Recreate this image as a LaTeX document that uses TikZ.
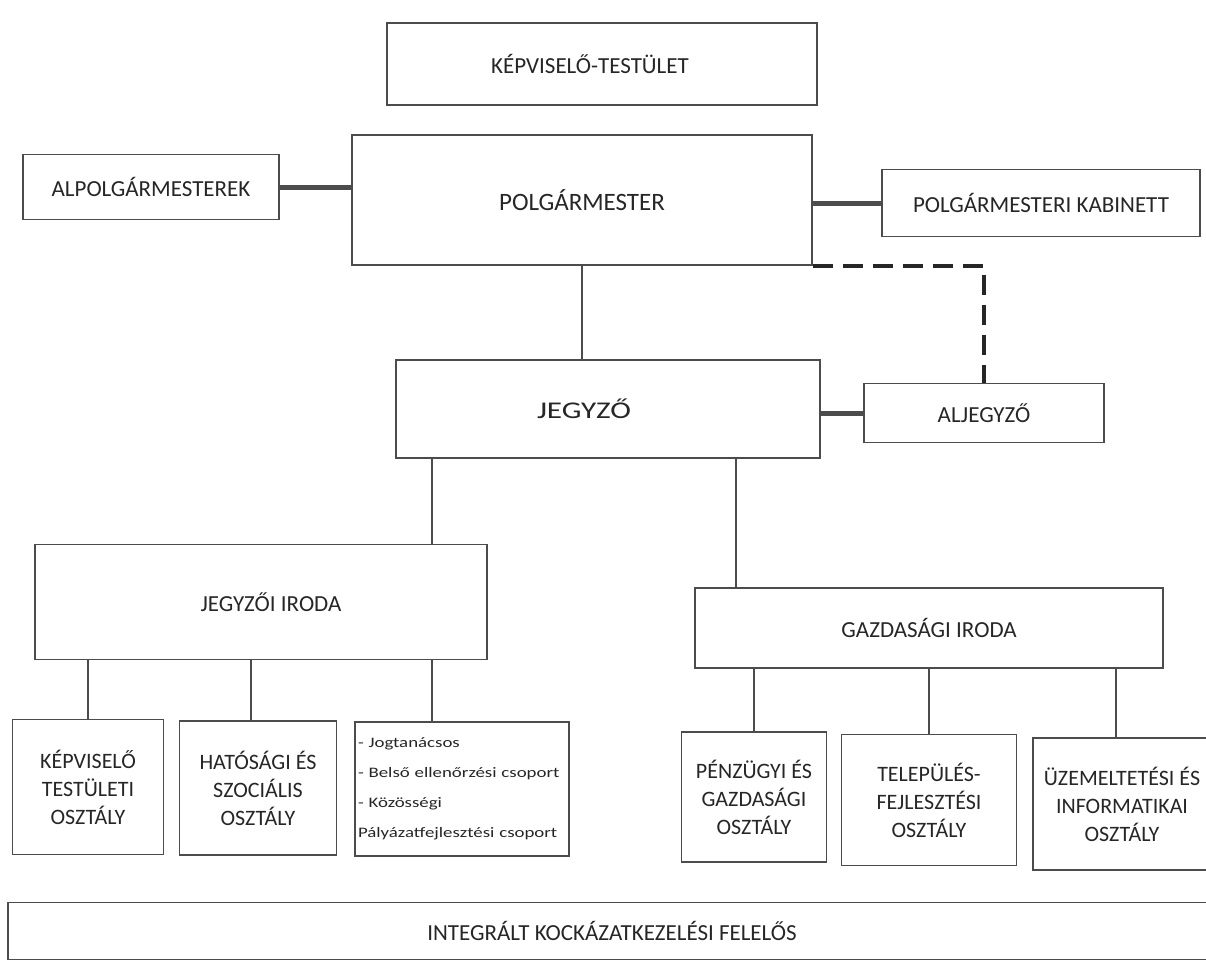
\documentclass[tikz,border=0pt]{standalone}
\usepackage{fontspec}
\setmainfont{Carlito}
\newfontfamily\widefont[FakeStretch=1.3]{Carlito}
\usetikzlibrary{positioning}
\tikzset{
  box/.style={draw=black!70, line width=1.6pt, text=black!85, align=center, font=\fontsize{23}{28}\selectfont},
  subbox/.style={box, font=\fontsize{22}{28}\selectfont},
  thinline/.style={draw=black!70, line width=1.6pt},
  thickline/.style={draw=black!70, line width=5pt},
  dashline/.style={draw=black!85, line width=3.5pt, dash pattern=on 20pt off 10pt}
}
\begin{document}
\begin{tikzpicture}[x=1pt, y=-1pt]
    \useasboundingbox (0,0) rectangle (1206,978);
    \clip (0,0) rectangle (1206,978);

    % Top level
    \node[box, minimum width=430pt, minimum height=82pt,
          label={[xshift=-12pt, text=black!85, font=\fontsize{23}{28}\selectfont]center:KÉPVISELŐ-TESTÜLET}] (kt) at (602,64) {};
    \node[box, minimum width=460pt, minimum height=130pt, font=\fontsize{25}{30}\selectfont] (pm) at (582,200) {POLGÁRMESTER};
    \node[box, minimum width=256pt, minimum height=65pt] (alpm) at (151,187) {ALPOLGÁRMESTEREK};
    \node[box, minimum width=318pt, minimum height=67pt] (kab) at (1041,203) {POLGÁRMESTERI KABINETT};

    % Jegyzo level
    \node[box, minimum width=424pt, minimum height=98pt,
          label={[xshift=-24pt, text=black!85, font=\widefont\fontsize{24}{28}\selectfont]center:JEGYZŐ}] (jegyzo) at (608,409) {};
    \node[box, minimum width=240pt, minimum height=59pt] (alj) at (984,413) {ALJEGYZŐ};

    % Offices
    \node[box, minimum width=452pt, minimum height=115pt,
          label={[xshift=10pt, text=black!85, font=\fontsize{23}{28}\selectfont]center:JEGYZŐI IRODA}] (jiroda) at (261,602) {};
    \node[box, minimum width=468pt, minimum height=80pt] (giroda) at (929,628) {GAZDASÁGI IRODA};

    % Departments
    \node[subbox, minimum width=151pt, minimum height=135pt] (kto) at (88,787) {KÉPVISELŐ\\TESTÜLETI\\OSZTÁLY};
    \node[subbox, minimum width=157pt, minimum height=134pt] (hat) at (258,788) {HATÓSÁGI ÉS\\SZOCIÁLIS\\OSZTÁLY};
    \node[box, align=left, font=\widefont\fontsize{14.5}{30}\selectfont, inner xsep=3pt,
          text width=208pt, minimum height=134pt] (jog) at (462,789)
          {- Jogtanácsos\\- Belső ellenőrzési csoport\\- Közösségi\\Pályázatfejlesztési csoport};
    \node[subbox, minimum width=145pt, minimum height=130pt] (pen) at (754,797) {PÉNZÜGYI ÉS\\GAZDASÁGI\\OSZTÁLY};
    \node[subbox, minimum width=175pt, minimum height=131pt] (tel) at (929,800) {TELEPÜLÉS-\\FEJLESZTÉSI\\OSZTÁLY};
    \node[subbox, minimum width=178pt, minimum height=132pt] (uzem) at (1122,804) {ÜZEMELTETÉSI ÉS\\INFORMATIKAI\\OSZTÁLY};

    % Bottom bar
    \node[box, minimum width=1208pt, minimum height=57pt] (integ) at (612,931) {INTEGRÁLT KOCKÁZATKEZELÉSI FELELŐS};

    % Connectors
    \draw[thickline] (alpm.east) -- (alpm.east -| pm.west);
    \draw[thickline] (kab.west) -- (kab.west -| pm.east);
    \draw[thinline] (pm.south) -- (pm.south |- jegyzo.north);
    \draw[dashline] (pm.south east) -| (alj.north);
    \draw[thickline] (alj.west) -- (alj.west -| jegyzo.east);
    \draw[thinline] (432,0 |- jegyzo.south) -- (432,0 |- jiroda.north);
    \draw[thinline] (736,0 |- jegyzo.south) -- (736,0 |- giroda.north);
    \draw[thinline] (kto.north) -- (kto.north |- jiroda.south);
    \draw[thinline] (251,0 |- hat.north) -- (251,0 |- jiroda.south);
    \draw[thinline] (432,0 |- jog.north) -- (432,0 |- jiroda.south);
    \draw[thinline] (pen.north) -- (pen.north |- giroda.south);
    \draw[thinline] (tel.north) -- (tel.north |- giroda.south);
    \draw[thinline] (1116,0 |- uzem.north) -- (1116,0 |- giroda.south);
\end{tikzpicture}
\end{document}
